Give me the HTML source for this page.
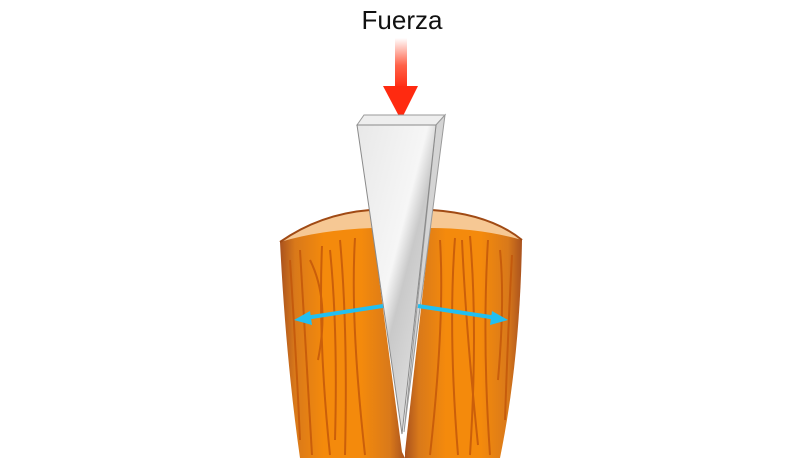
<!DOCTYPE html>
<html><head><meta charset="utf-8"><style>
html,body{margin:0;padding:0;background:#fff;width:800px;height:458px;overflow:hidden}
svg{display:block}
</style></head><body>
<svg width="800" height="458" viewBox="0 0 800 458">
<defs>
<linearGradient id="arr" x1="0" y1="0" x2="0" y2="1">
<stop offset="0" stop-color="#ff3a1a" stop-opacity="0"/><stop offset="0.55" stop-color="#ff3a1a" stop-opacity="0.8"/><stop offset="1" stop-color="#ff2a10"/></linearGradient>
<linearGradient id="wood" x1="0" y1="0" x2="1" y2="0">
<stop offset="0" stop-color="#a9521e"/><stop offset="0.12" stop-color="#d9791a"/><stop offset="0.35" stop-color="#f48a0c"/><stop offset="0.65" stop-color="#f48a0c"/><stop offset="0.88" stop-color="#d9791a"/><stop offset="1" stop-color="#a9521e"/></linearGradient>
<linearGradient id="steel" x1="0" y1="0" x2="1" y2="1">
<stop offset="0" stop-color="#e8e8e8"/><stop offset="0.45" stop-color="#f6f6f6"/><stop offset="0.55" stop-color="#c9c9c9"/><stop offset="1" stop-color="#eeeeee"/></linearGradient>
</defs>
<text x="402" y="29" text-anchor="middle" font-family="Liberation Sans, sans-serif" font-size="26" fill="#111">Fuerza</text>
<g>
<rect x="395" y="38" width="12" height="50" fill="url(#arr)"/>
<polygon points="383,86 418,86 401,120" fill="#ff2a10"/>
</g>
<g>
<path d="M280,242 Q320,214 370,210 L402,452 L405,458 L300,458 Q286,360 280,242 Z" fill="url(#wood)"/>
<path d="M432,210 Q490,214 522,240 Q520,360 500,458 L405,458 L405,452 Z" fill="url(#wood)"/>
<path d="M280,242 Q320,214 370,210 L372,228 Q320,230 280,242 Z" fill="#f6c894"/>
<path d="M432,210 Q490,214 522,240 Q480,228 430,228 Z" fill="#f6c894"/>
<path d="M280,242 Q320,214 370,210" fill="none" stroke="#a04a14" stroke-width="2"/>
<path d="M432,210 Q490,214 522,240" fill="none" stroke="#a04a14" stroke-width="2"/>
<g stroke="#c2550a" stroke-width="2" fill="none" opacity="0.8">
<path d="M300,250 Q305,330 312,455"/><path d="M322,246 Q318,340 330,455"/><path d="M340,240 Q348,330 345,455"/><path d="M355,238 Q350,320 365,455"/><path d="M310,260 Q330,300 318,360"/><path d="M290,260 Q296,350 300,440"/><path d="M330,250 Q338,330 335,440"/>
<path d="M455,238 Q448,330 458,455"/><path d="M470,236 Q478,330 470,455"/><path d="M488,240 Q482,340 490,455"/><path d="M440,240 Q445,320 430,455"/><path d="M500,250 Q505,300 498,380"/><path d="M462,240 Q466,330 478,445"/><path d="M512,255 Q508,330 505,420"/>
</g>
</g>
<g>
<polygon points="357,125 364,115 445,115 436,125" fill="#eeeeee" stroke="#9a9a9a" stroke-width="1"/>
<polygon points="436,125 445,115 404,432" fill="#d4d4d4" stroke="#9a9a9a" stroke-width="1"/>
<polygon points="357,125 436,125 402,434" fill="url(#steel)" stroke="#8a8a8a" stroke-width="1"/>
</g>
<g stroke="#22bff0" stroke-width="4" fill="#22bff0">
<line x1="383" y1="306" x2="305" y2="318"/>
<polygon points="294,320 310,311 312,325" stroke="none"/>
<line x1="418" y1="306" x2="497" y2="318"/>
<polygon points="508,320 492,311 490,325" stroke="none"/>
</g>
</svg>
</body></html>
